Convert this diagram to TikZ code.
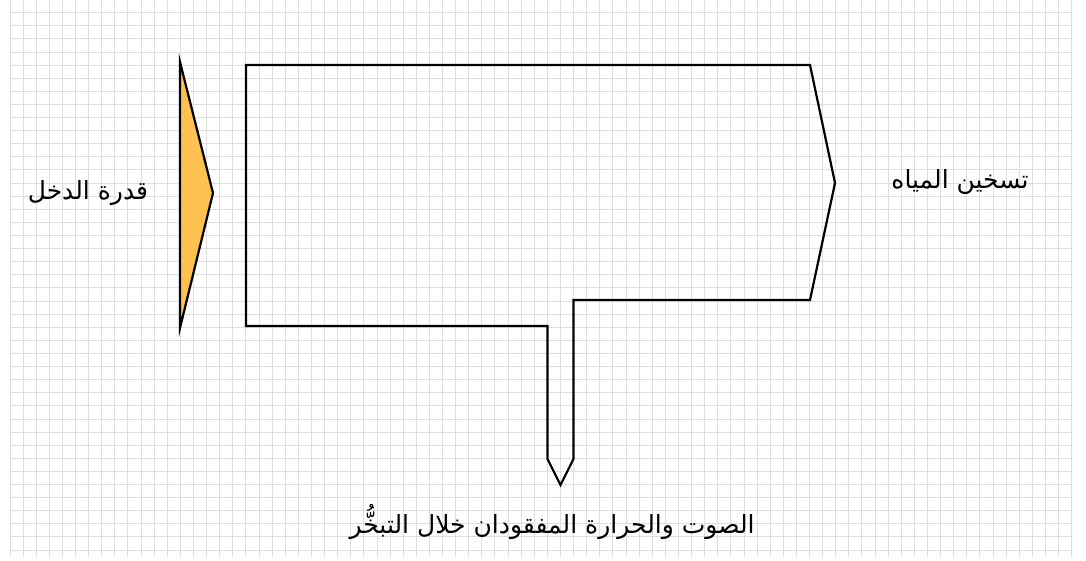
\documentclass[tikz,border=0pt]{standalone}
\usepackage{fontspec}
\newfontfamily\arabicfont[Script=Arabic]{DejaVu Sans}
\TeXXeTstate=1
\definecolor{inorange}{RGB}{255,193,80}
\definecolor{gridgray}{RGB}{222,222,222}
\tikzset{
  gridline/.style={draw=gridgray, line width=1pt},
  flowline/.style={draw=black, line width=2.2pt, line join=miter},
  lbl/.style={font=\arabicfont\fontsize{25}{30}\selectfont, inner sep=0pt, text=black}
}
\begin{document}
\begin{tikzpicture}[x=1pt,y=-1pt]
\useasboundingbox (0,0) rectangle (1086,560);
\fill[white] (0,0) rectangle (1086,560);
% grid
\foreach \k in {0,...,81}{
  \draw[gridline] ({10+13.107*\k},0) -- ({10+13.107*\k},557);
}
\foreach \n in {-1,0,...,41}{
  \draw[gridline] (10,{12.7+13.107*\n}) -- (1071.7,{12.7+13.107*\n});
}
% input arrow
\coordinate (inTop) at (180,62);
\coordinate (inTip) at (213,193);
\coordinate (inBot) at (180,328);
\filldraw[fill=inorange, flowline] (inTop) -- (inTip) -- (inBot) -- cycle;
% main flow shape
\coordinate (a) at (246,65);
\coordinate (b) at (810,65);
\coordinate (c) at (835,183);
\coordinate (d) at (810,300);
\coordinate (e) at (573.5,300);
\coordinate (f) at (573.5,459);
\coordinate (g) at (560.5,485);
\coordinate (h) at (547.5,459);
\coordinate (i) at (547.5,326);
\coordinate (j) at (246,326);
\draw[flowline] (a) -- (b) -- (c) -- (d) -- (e) -- (f) -- (g) -- (h) -- (i) -- (j) -- cycle;
% labels
\node[lbl] (inlabel) at (88,193) {\beginR قدرة الدخل\endR};
\node[lbl] (outlabel) at (960,182) {\beginR تسخين المياه\endR};
\node[lbl] (losslabel) at (552,522) {\beginR الصوت والحرارة المفقودان خلال التبخُّر\endR};
\end{tikzpicture}
\end{document}
